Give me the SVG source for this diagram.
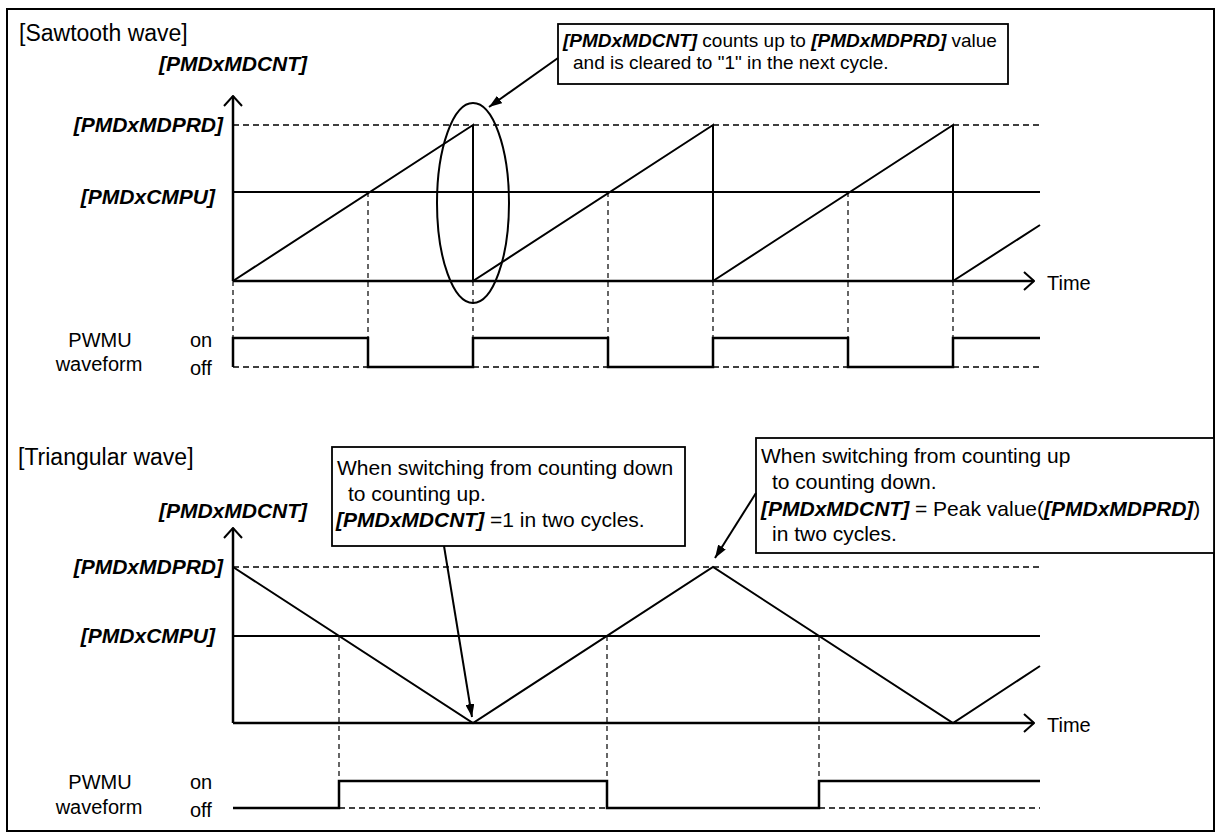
<svg xmlns="http://www.w3.org/2000/svg" width="1216" height="832" viewBox="0 0 1216 832">
<style>
text{font-family:"Liberation Sans",Arial,sans-serif;fill:#000}
.title{font-size:23px}
.lbl{font-size:21px;font-weight:bold;font-style:italic}
.bi{font-weight:bold;font-style:italic}
.reg{font-size:20px}
.box{fill:#fff;stroke:#000;stroke-width:1.8}
.axis{fill:none;stroke:#000;stroke-width:2.5}
.wave{fill:none;stroke:#000;stroke-width:2}
.pw{fill:none;stroke:#000;stroke-width:2.5}
.ref{fill:none;stroke:#000;stroke-width:1.5;stroke-dasharray:6 4}
.vd{fill:none;stroke:#000;stroke-width:1.2;stroke-dasharray:5 4}
.call{fill:none;stroke:#000;stroke-width:2}
</style>
<defs>
<marker id="open" viewBox="0 0 12 20" refX="11" refY="10" markerWidth="12" markerHeight="20" markerUnits="userSpaceOnUse" orient="auto">
<path d="M1,1 L11,10 L1,19" fill="none" stroke="#000" stroke-width="2"/>
</marker>
<marker id="fill" viewBox="0 0 13 9" refX="13" refY="4.5" markerWidth="13" markerHeight="9" markerUnits="userSpaceOnUse" orient="auto">
<path d="M0,0 L13,4.5 L0,9 z" fill="#000"/>
</marker>
</defs>
<rect x="7" y="9" width="1207" height="822" fill="#fff" stroke="#000" stroke-width="2"/>

<!-- Sawtooth section -->
<g id="saw-title"><text class="title" x="19" y="41">[Sawtooth wave]</text></g>
<g id="saw-labels">
<text class="lbl" x="233" y="71" text-anchor="middle">[PMDxMDCNT]</text>
<text class="lbl" x="223" y="132" text-anchor="end">[PMDxMDPRD]</text>
<text class="lbl" x="215" y="204" text-anchor="end">[PMDxCMPU]</text>
<text class="reg" x="1047" y="290">Time</text>
<text class="reg" x="100" y="347" text-anchor="middle">PWMU</text>
<text class="reg" x="99" y="371" text-anchor="middle">waveform</text>
<text class="reg" x="190" y="347">on</text>
<text class="reg" x="190" y="375">off</text>
</g>
<g id="saw-graph">
<line class="ref" x1="233" y1="125" x2="1040" y2="125"/>
<line class="wave" x1="233" y1="192" x2="1040" y2="192"/>
<line class="axis" x1="233" y1="281" x2="233" y2="96" marker-end="url(#open)"/>
<line class="axis" x1="233" y1="281" x2="1034" y2="281" marker-end="url(#open)"/>
<path class="wave" d="M233,281 L473,125 V281 L713,125 V281 L953,125 V281 L1040,225"/>
<path class="vd" d="M233,281 V338 M368,192 V338 M473,281 V338 M608,192 V338 M713,281 V338 M848,192 V338 M953,281 V338"/>
<line class="ref" x1="233" y1="367" x2="1040" y2="367"/>
<path class="pw" d="M233,367 V338 H368 V367 H473 V338 H608 V367 H713 V338 H848 V367 H953 V338 H1040"/>
</g>
<g id="saw-ellipse"><ellipse cx="473" cy="203" rx="36" ry="100" fill="none" stroke="#000" stroke-width="2"/></g>
<g id="saw-callout">
<rect class="box" x="558" y="24" width="450" height="60"/>
<text x="563" y="47" font-size="19"><tspan class="bi">[PMDxMDCNT]</tspan> counts up to <tspan class="bi">[PMDxMDPRD]</tspan> value</text>
<text x="573" y="69" font-size="19">and is cleared to "1" in the next cycle.</text>
</g>

<!-- Triangular section -->
<g id="tri-title"><text class="title" x="18" y="465">[Triangular wave]</text></g>
<g id="tri-labels">
<text class="lbl" x="233" y="518" text-anchor="middle">[PMDxMDCNT]</text>
<text class="lbl" x="223" y="574" text-anchor="end">[PMDxMDPRD]</text>
<text class="lbl" x="215" y="643" text-anchor="end">[PMDxCMPU]</text>
<text class="reg" x="1047" y="732">Time</text>
<text class="reg" x="100" y="789" text-anchor="middle">PWMU</text>
<text class="reg" x="99" y="814" text-anchor="middle">waveform</text>
<text class="reg" x="190" y="789">on</text>
<text class="reg" x="190" y="817">off</text>
</g>
<g id="tri-graph">
<line class="ref" x1="233" y1="567" x2="1040" y2="567"/>
<line class="wave" x1="233" y1="636" x2="1040" y2="636"/>
<line class="axis" x1="233" y1="723" x2="233" y2="528" marker-end="url(#open)"/>
<line class="axis" x1="233" y1="723" x2="1034" y2="723" marker-end="url(#open)"/>
<path class="wave" d="M233,567 L473,723 L713,567 L953,723 L1040,666"/>
<path class="vd" d="M339,636 V781 M607,636 V781 M819,636 V781"/>
<line class="ref" x1="339" y1="808" x2="1040" y2="808"/>
<path class="pw" d="M233,808 H339 V781 H607 V808 H819 V781 H1040"/>
</g>
<g id="tri-callout1">
<rect class="box" x="332" y="447" width="353" height="99"/>
<text x="337" y="475" font-size="21">When switching from counting down</text>
<text x="348" y="501" font-size="21">to counting up.</text>
<text x="336" y="527" font-size="21"><tspan class="bi">[PMDxMDCNT]</tspan> =1 in two cycles.</text>
</g>
<g id="tri-callout2">
<rect class="box" x="756" y="438" width="458" height="115"/>
<text x="761" y="463" font-size="21">When switching from counting up</text>
<text x="772" y="489" font-size="21">to counting down.</text>
<text x="761" y="516" font-size="21"><tspan class="bi">[PMDxMDCNT]</tspan> = Peak value(<tspan class="bi">[PMDxMDPRD]</tspan>)</text>
<text x="772" y="541" font-size="21">in two cycles.</text>
</g>

<g id="connectors">
<line class="call" x1="558" y1="58" x2="489" y2="107" marker-end="url(#fill)"/>
<line class="call" x1="444" y1="546" x2="472" y2="717" marker-end="url(#fill)"/>
<line class="call" x1="756" y1="493" x2="715" y2="558" marker-end="url(#fill)"/>
</g>
</svg>
